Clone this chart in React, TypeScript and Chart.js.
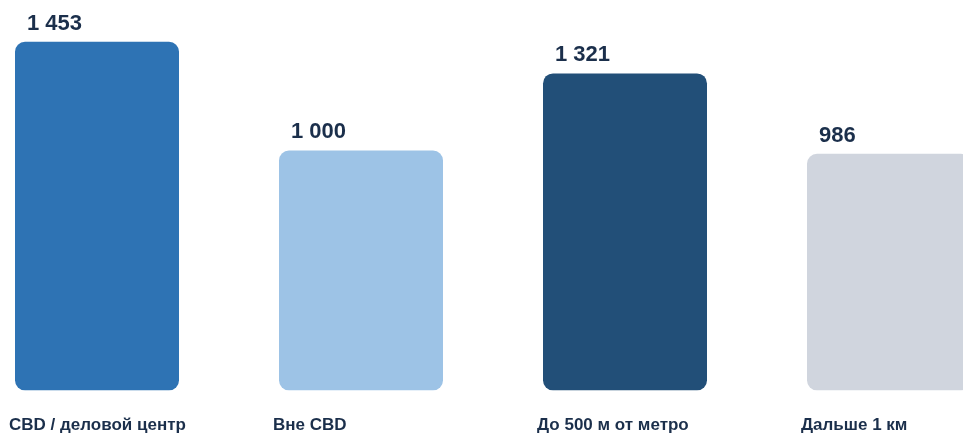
import React, { useEffect, useRef } from "react";
import { Chart, registerables } from "chart.js";

Chart.register(...registerables);

const categories = ["CBD / деловой центр", "Вне CBD", "До 500 м от метро", "Дальше 1 км"];
const values = [1453, 1000, 1321, 986];
const valueLabels = ["1 453", "1 000", "1 321", "986"];
const barColors = ["#2e73b4", "#9dc3e6", "#224f78", "#d0d5de"];

const TEXT_COLOR = "#1b2f4b";

const labelPlugin = {
  id: "barLabels",
  afterDatasetsDraw(chart: any) {
    const ctx = chart.ctx;
    const meta = chart.getDatasetMeta(0);
    ctx.save();
    ctx.fillStyle = TEXT_COLOR;
    ctx.textAlign = "left";
    ctx.textBaseline = "alphabetic";
    meta.data.forEach((bar: any, i: number) => {
      const left = bar.x - bar.width / 2;
      ctx.font = "bold 22px 'Liberation Sans', Arial, sans-serif";
      ctx.fillText(valueLabels[i], left + 12, bar.y - 12);
      ctx.font = "bold 17px 'Liberation Sans', Arial, sans-serif";
      ctx.fillText(categories[i], left - 6, 430);
    });
    ctx.restore();
  },
};

export default function App() {
  const ref = useRef<HTMLCanvasElement | null>(null);
  useEffect(() => {
    document.body.style.margin = "0";
    document.body.style.overflow = "hidden";
    const canvas = ref.current!;
    const chart = new Chart(canvas, {
      type: "bar",
      data: {
        labels: categories,
        datasets: [
          {
            data: values,
            backgroundColor: barColors,
            borderRadius: 10,
            borderSkipped: false,
            categoryPercentage: 1,
            barPercentage: 164 / 264,
          },
        ],
      },
      options: {
        responsive: false,
        animation: false,
        devicePixelRatio: 1,
        layout: { padding: { top: 0, bottom: 43.5, left: 0, right: 0 } },
        plugins: { legend: { display: false }, tooltip: { enabled: false } },
        scales: {
          x: { display: false, offset: true },
          y: { display: false, min: 0, max: 1627 },
        },
      },
      plugins: [labelPlugin],
    });
    return () => chart.destroy();
  }, []);
  return (
    <div style={{ position: "fixed", left: 0, top: 0, width: 963, height: 434, overflow: "hidden", background: "#fff" }}>
      <canvas
        ref={ref}
        width={1056}
        height={434}
        style={{ position: "absolute", left: -35, top: 0, width: 1056, height: 434 }}
      />
    </div>
  );
}
